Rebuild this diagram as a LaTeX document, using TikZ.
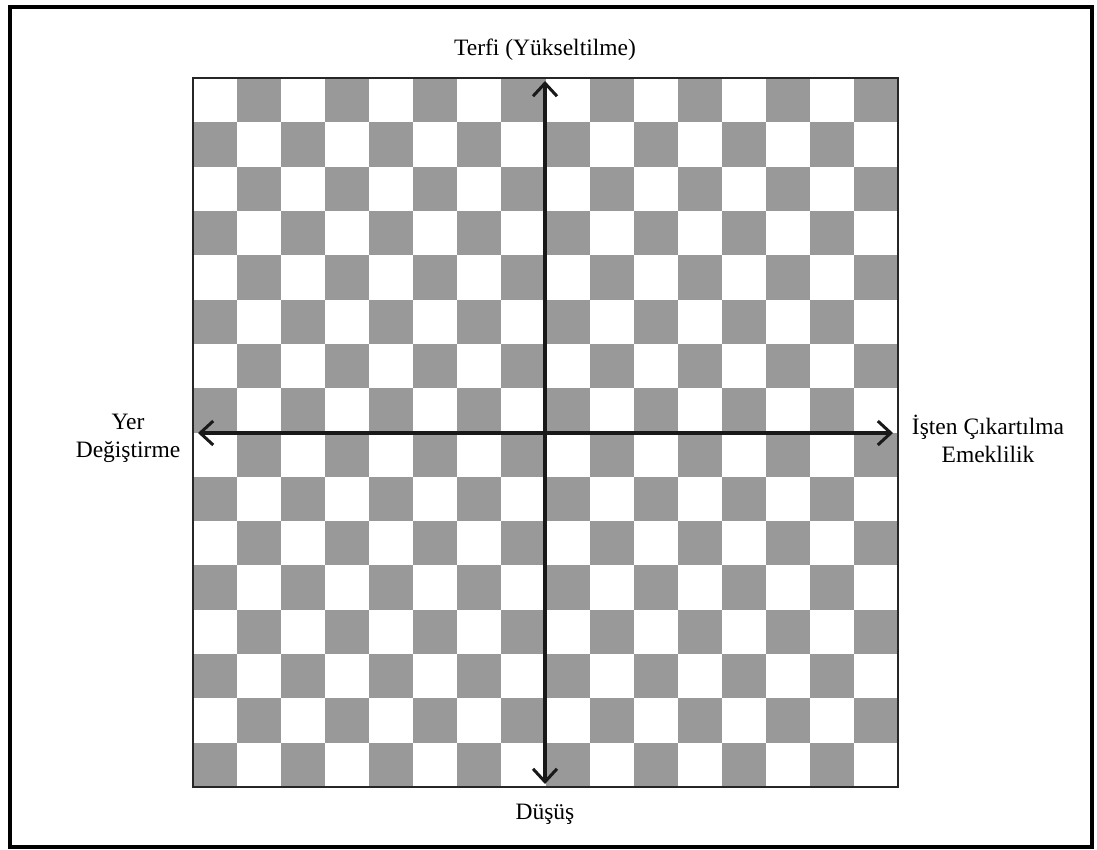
\documentclass[tikz,border=0pt]{standalone}
\usepackage{fontspec}
\setmainfont{Liberation Serif}
\usetikzlibrary{arrows.meta}
\definecolor{sqgray}{gray}{0.6}
\tikzset{
  lbl/.style={font=\fontsize{23.5}{28}\selectfont, align=center, inner sep=0pt, text=black},
  axis/.style={line width=4pt, draw=black!90, {Straight Barb[length=13pt,width=24pt,line width=3pt]}-{Straight Barb[length=13pt,width=24pt,line width=3pt]}},
  sq/.style={fill=sqgray, draw=none},
  frame/.style={line width=4pt, draw=black}
}
\begin{document}
\begin{tikzpicture}[x=1pt,y=-1pt]
\useasboundingbox (0,0) rectangle (1097,849);
\fill[white] (0,0) rectangle (1097,849);
% outer frame
\draw[frame] (9.5,7) rectangle (1092,846.5);
% checkerboard
\foreach \r in {0,...,15}{
  \foreach \c in {0,...,15}{
    \pgfmathtruncatemacro{\odd}{mod(\r+\c,2)}
    \ifnum\odd=1
      \fill[sq] ({193+\c*44.0625},{78+\r*44.3125}) rectangle ({193+(\c+1)*44.0625},{78+(\r+1)*44.3125});
    \fi
  }
}
\draw[line width=1.5pt, draw=black!85] (193,78) rectangle (898,787);
% axis end points
\coordinate (top) at (545,81);
\coordinate (bottom) at (545,784);
\coordinate (left) at (198,433);
\coordinate (right) at (893,433);
\draw[axis] (bottom) -- (top);
\draw[axis] (left) -- (right);
% labels
\node[lbl] (terfi) at (545,50) {Terfi (Yükseltilme)};
\node[lbl] (dusus) at (545,814) {Düşüş};
\node[lbl] (isten) at (988,439) {İşten Çıkartılma\\Emeklilik};
\node[lbl] (yer) at (128,438) {Yer\\Değiştirme};
\end{tikzpicture}
\end{document}
